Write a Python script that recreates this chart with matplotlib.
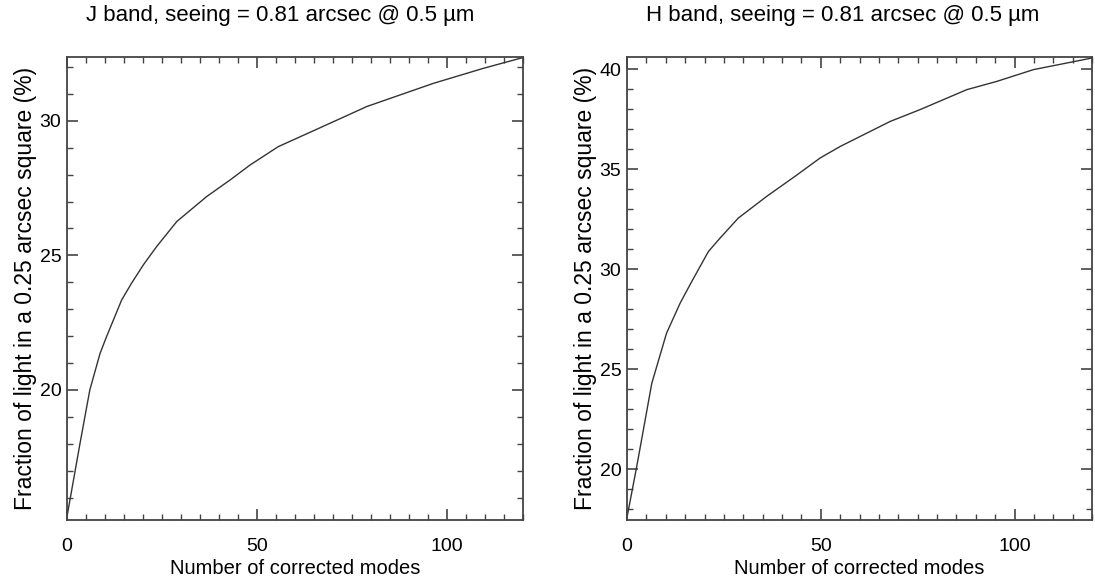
import matplotlib
matplotlib.use('Agg')
import matplotlib.pyplot as plt
from matplotlib.ticker import MultipleLocator

plt.rcParams['font.family'] = ['Liberation Sans', 'DejaVu Sans']

# J band curve
j_modes = [0, 3.4, 6.0, 8.7, 10.4, 14.4, 17.0, 20.1, 23.6, 28.9, 36.8, 42.9,
           48.2, 55.6, 68.3, 78.9, 96.4, 109.6, 120]
j_frac = [15.3, 18.0, 20.0, 21.36, 21.98, 23.35, 23.97, 24.65, 25.33, 26.26, 27.19, 27.8,
          28.36, 29.04, 29.85, 30.53, 31.39, 31.95, 32.35]

# H band curve
h_modes = [0, 2.5, 6.4, 10.2, 13.7, 16.7, 21.0, 24.0, 28.7, 36.0, 43.8, 49.8,
           55.0, 67.9, 75.6, 87.7, 95.4, 104.9, 120]
h_frac = [17.6, 20.13, 24.3, 26.8, 28.3, 29.38, 30.88, 31.55, 32.55, 33.63, 34.7, 35.55,
          36.13, 37.38, 37.97, 38.97, 39.38, 39.97, 40.55]

titles = ['J band, seeing = 0.81 arcsec @ 0.5 \u00b5m',
          'H band, seeing = 0.81 arcsec @ 0.5 \u00b5m']
ylims = [(15.17, 32.37), (17.47, 40.6)]
ymajor = [5, 5]

fig = plt.figure(figsize=(10.95, 5.84), dpi=100)
ax1 = fig.add_axes([0.0612, 0.1096, 0.4164, 0.7928])
ax2 = fig.add_axes([0.5726, 0.1096, 0.4247, 0.7928])

data = [(j_modes, j_frac), (h_modes, h_frac)]
title_x = [280 / 1095, 843 / 1095]

for i, ax in enumerate([ax1, ax2]):
    x, y = data[i]
    ax.plot(x, y, color='#333333', lw=1.0)
    ax.set_xlim(0, 120)
    ax.set_ylim(*ylims[i])
    ax.xaxis.set_major_locator(MultipleLocator(50))
    ax.xaxis.set_minor_locator(MultipleLocator(5))
    ax.yaxis.set_major_locator(MultipleLocator(ymajor[i]))
    ax.yaxis.set_minor_locator(MultipleLocator(1))
    ax.tick_params(which='both', direction='in', top=True, right=True,
                   color='#444444', labelsize=14)
    ax.tick_params(which='major', length=8, width=1.2)
    ax.tick_params(which='minor', length=4, width=1.0)
    ax.tick_params(axis='x', pad=13)
    ax.tick_params(axis='y', pad=4)
    for s in ax.spines.values():
        s.set_color('#444444')
        s.set_linewidth(1.3)
    ax.set_xlabel('Number of corrected modes', fontsize=14.5, labelpad=3)
    ax.set_ylabel('Fraction of light in a 0.25 arcsec square (%)', fontsize=16.5, labelpad=2)
    fig.text(title_x[i], 1 - 15 / 584, titles[i], fontsize=16, ha='center', va='center')

plt.savefig('out.png', dpi=100)
